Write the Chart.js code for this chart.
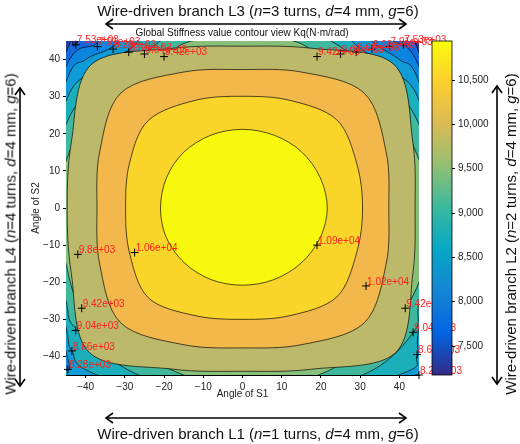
<!DOCTYPE html>
<html><head><meta charset="utf-8">
<script src="https://cdn.jsdelivr.net/npm/chart.js@4.4.0/dist/chart.umd.min.js"></script>
<style>
body{margin:0;width:520px;height:444px;background:#fff;font-family:"Liberation Sans",Arial,sans-serif;overflow:hidden}
#wrap{position:relative;width:520px;height:444px}
canvas{position:absolute}
.t{position:absolute;font-size:15px;white-space:nowrap;color:#111}
.rot{transform-origin:center;transform:translate(-50%,-50%) rotate(-90deg)}
</style></head><body><div id="wrap">
<canvas id="main" width="520" height="444" style="left:0;top:0;width:520px;height:444px"></canvas>
<canvas id="cbar" width="100" height="444" style="left:420px;top:0;width:100px;height:444px"></canvas>
<div class="t" style="left:258px;top:2px;transform:translateX(-50%)">Wire-driven branch L3 (<i>n</i>=3 turns, <i>d</i>=4 mm, <i>g</i>=6)</div>
<div class="t" style="left:258px;top:425px;transform:translateX(-50%)">Wire-driven branch L1 (<i>n</i>=1 turns, <i>d</i>=4 mm, <i>g</i>=6)</div>
<div class="t rot" style="left:10px;top:234px">Wire-driven branch L4 (<i>n</i>=4 turns, <i>d</i>=4 mm, <i>g</i>=6)</div>
<div class="t rot" style="left:510px;top:234px">Wire-driven branch L2 (<i>n</i>=2 turns, <i>d</i>=4 mm, <i>g</i>=6)</div>
<div class="t" style="left:242px;top:27px;font-size:10px;transform:translateX(-50%)">Global Stiffness value contour view Kq(N·m/rad)</div>
<svg width="520" height="444" style="position:absolute;left:0;top:0">
<g stroke="#000" stroke-width="1.6" fill="none">
<line x1="106" y1="24" x2="406" y2="24"/><path d="M113,19 L106,24 L113,29 M399,19 L406,24 L399,29"/>
<line x1="106" y1="418" x2="406" y2="418"/><path d="M113,413 L106,418 L113,423 M399,413 L406,418 L399,423"/>
<line x1="20" y1="88" x2="20" y2="386"/><path d="M15,95 L20,88 L25,95 M15,379 L20,386 L25,379"/>
<line x1="497" y1="86" x2="497" y2="384"/><path d="M492,93 L497,86 L502,93 M492,377 L497,384 L502,377"/>
</g></svg>
</div>
<script>
// contour levels (N·m/rad) and colours of the band above each level
const levels = [10900, 10600, 10200, 9800, 9420, 9040, 8660, 8280, 7910, 7530];
const bandColors = ['#f8f80f','#f9d52a','#f2b84c','#bcb96a','#86c07a','#40b89e','#1aafbb','#0e9bd6','#0c85e0','#1568db'];
const lowColor = '#2e3aa0';
// closed contour outlines [S1, S2]
const c10900 = [[0,21.2],[8.1,19.6],[15,15.2],[19.8,8.2],[21.6,0],[19.8,-8],[15,-14.8],[8,-19.3],[0,-20.8],[-8,-19.3],[-14.8,-14.8],[-19.4,-8],[-20.9,0],[-19.4,8.1],[-15,15],[-8.1,19.6]];
const c10600 = [[0,30.1],[12.1,29],[24,23.8],[29.1,12.1],[30.6,0],[29.1,-12.1],[24,-24],[12.1,-29],[0,-30],[-12.1,-29],[-24,-24.2],[-28.8,-12.1],[-29.8,0],[-28.8,12.1],[-24,23.6],[-12.1,29]];
const c10200 = [[0,37.3],[15.2,36.6],[31,31],[36.6,15.2],[37.3,0],[36.6,-15.2],[31,-31],[15.2,-36.8],[0,-37.7],[-15.2,-36.8],[-31,-31],[-36.4,-15.2],[-37.1,0],[-36.4,15.2],[-31,31],[-15.2,36.6]];
const c9800 = [[0,43.6],[18,43],[38.6,38.7],[43.4,18],[44,0],[43.4,-18],[39,-39],[18,-43.4],[0,-44],[-18,-43.4],[-39,-39],[-43.6,-18],[-44.7,0],[-43.6,18],[-38.6,38.6],[-18,43]];
const c9420 = [[1,46.5],[13,45],[20,41],[30,35],[38,28],[45,13],[48,0],[46.5,-15],[41.5,-27],[32,-37],[19.4,-45],[1,-50],[-15,-45],[-30,-37],[-41,-27],[-45,-15],[-47,0],[-45,12.6],[-38,28],[-30,35],[-20,41],[-13,45]];
const c9040 = [[1,50],[18,47],[27,42],[36,35],[45,22.5],[49,0],[45,-25],[43.5,-33.6],[30.6,-45],[1,-53],[-26.5,-45],[-42,-33],[-45,-25],[-49,0],[-45,22.5],[-36,35],[-25,41.8],[-17,47]];
const c8660 = [[1,54],[22,49],[30,43],[38,37],[45,29],[51,0],[45,-32],[44.5,-40],[39.8,-45],[1,-57],[-37,-45],[-43.5,-38.5],[-45,-32],[-51,0],[-45,28.8],[-38,37],[-29,42.5],[-21,49]];
const c8280 = [[1,58],[26,51],[34,44],[40,40],[45,34],[54,0],[46,-40],[45,-44.5],[43,-47],[1,-61],[-43,-47],[-44,-43],[-45,-38.6],[-54,0],[-45,34],[-40,40],[-33,43.5],[-25,51]];
const c7910 = [[1,62],[30,53],[38,45.5],[45,38.2],[57,0],[46,-46],[44,-49],[1,-65],[-46,-46],[-45,-43],[-57,0],[-45,38.2],[-37,44.5],[-29,53]];
const c7530 = [[1,66],[35,54],[42,46],[45,42],[60,0],[48,-48],[1,-69],[-48,-48],[-60,0],[-45,42],[-42.5,44],[-34,54]];
const contours = [c10900,c10600,c10200,c9800,c9420,c9040,c8660,c8280,c7910,c7530];
// contour labels [S1, S2, text]
const labelPts = [
 [-42.5,44,'7.53e+03'],[-37,43.5,'7.91e+03'],[-33,42.8,'8.28e+03'],[-29,42,'8.66e+03'],[-25,41.5,'9.04e+03'],[-20,40.8,'9.42e+03'],
 [19,40.8,'9.42e+03'],[25,41.5,'9.04e+03'],[29,42,'8.66e+03'],[33,42.8,'8.28e+03'],[37.5,43.5,'7.91e+03'],[41,44,'7.53e+03'],
 [-42,-12.5,'9.8e+03'],[-27.5,-12,'1.06e+04'],[19,-10,'1.09e+04'],[31.5,-21,'1.02e+04'],
 [-41,-27,'9.42e+03'],[-42.5,-33,'9.04e+03'],[-43.5,-38.5,'8.66e+03'],[-44.5,-43.5,'8.28e+03'],
 [41.5,-27,'9.42e+03'],[43.5,-33.5,'9.04e+03'],[44.5,-39.5,'8.66e+03'],[45,-45,'8.28e+03']];
const xTicks = [-40,-30,-20,-10,0,10,20,30,40];
const yTicks = [-40,-30,-20,-10,0,10,20,30,40];
const cbarTicks = [7500,8000,8500,9000,9500,10000,10500];
const cbarMin = 7173, cbarMax = 10940;
const parula = ['#352a87','#0363e1','#1485d4','#06a7c6','#38b99e','#92bf73','#d9ba56','#fcce2e','#f9fb0e'];

const font = {family:'"Liberation Sans", Arial, sans-serif', size:10};
Chart.defaults.color = '#222';

const datasets = [{data: labelPts.map(p=>({x:p[0],y:p[1]})), showLine:false, pointStyle:'cross',
  pointRadius:4, borderColor:'#000', borderWidth:1, backgroundColor:'#000', clip:false}];

function closedSpline(c, pts){ // Catmull-Rom through pixel points, closed
  const n=pts.length; c.moveTo(pts[0][0],pts[0][1]);
  for(let i=0;i<n;i++){const p0=pts[(i-1+n)%n],p1=pts[i],p2=pts[(i+1)%n],p3=pts[(i+2)%n];
    c.bezierCurveTo(p1[0]+(p2[0]-p0[0])/6,p1[1]+(p2[1]-p0[1])/6,p2[0]-(p3[0]-p1[0])/6,p2[1]-(p3[1]-p1[1])/6,p2[0],p2[1]);}
  c.closePath();}

const contourPlugin = {id:'contours',
  beforeDatasetsDraw(ch){const a=ch.chartArea,c=ch.ctx,xs=ch.scales.x,ys=ch.scales.y;c.save();
    c.beginPath();c.rect(a.left,a.top,a.width,a.height);c.clip();
    c.fillStyle=lowColor;c.fillRect(a.left,a.top,a.width,a.height);
    for(let i=contours.length-1;i>=0;i--){
      const px=contours[i].map(p=>[xs.getPixelForValue(p[0]),ys.getPixelForValue(p[1])]);
      c.beginPath();closedSpline(c,px);c.fillStyle=bandColors[i];c.fill();
      c.strokeStyle='rgba(0,0,0,0.75)';c.lineWidth=0.9;c.stroke();}
    c.restore();},
  afterDatasetsDraw(ch){const c=ch.ctx,xs=ch.scales.x,ys=ch.scales.y;c.save();c.fillStyle='#ff2020';c.font='10px "Liberation Sans", Arial';c.textBaseline='bottom';
   labelPts.forEach(p=>c.fillText(p[2],xs.getPixelForValue(p[0])+1,ys.getPixelForValue(p[1])+1));c.restore();}};

new Chart(document.getElementById('main'),{type:'scatter',data:{datasets},plugins:[contourPlugin],
 options:{responsive:false,animation:false,devicePixelRatio:1,
  layout:{padding:{left:30,right:101,top:41,bottom:40}},
  plugins:{legend:{display:false},tooltip:{enabled:false}},
  scales:{
   x:{min:-45,max:45,afterBuildTicks:s=>{s.ticks=xTicks.map(v=>({value:v}))},afterFit:s=>{s.height=29},
      grid:{drawOnChartArea:false,tickLength:3,color:'#000'},border:{color:'#000'},ticks:{font,maxRotation:0,callback:v=>v<0?'\u2212'+(-v):v},
      title:{display:true,text:'Angle of S1',font,padding:{top:0}}},
   y:{min:-45,max:45,afterBuildTicks:s=>{s.ticks=yTicks.map(v=>({value:v}))},afterFit:s=>{s.width=36},
      grid:{drawOnChartArea:false,tickLength:3,color:'#000'},border:{color:'#000'},ticks:{font,callback:v=>v<0?'\u2212'+(-v):v},
      title:{display:true,text:'Angle of S2',font,padding:0}}
  }}});

const cbPlugin = {id:'cb', beforeDatasetsDraw(ch){const a=ch.chartArea,c=ch.ctx;const g=c.createLinearGradient(0,a.bottom,0,a.top);
  parula.forEach((col,i)=>g.addColorStop(i/(parula.length-1),col));c.save();c.fillStyle=g;c.fillRect(a.left,a.top,a.width,a.height);
  c.strokeStyle='#000';c.lineWidth=0.8;c.strokeRect(a.left,a.top,a.width,a.height);c.restore();}};
new Chart(document.getElementById('cbar'),{type:'scatter',data:{datasets:[{data:[]}]},plugins:[cbPlugin],
 options:{responsive:false,animation:false,devicePixelRatio:1,
  layout:{padding:{left:12,right:0,top:41,bottom:69}},
  plugins:{legend:{display:false},tooltip:{enabled:false}},
  scales:{x:{display:false,min:0,max:1},
   y:{position:'right',min:cbarMin,max:cbarMax,afterBuildTicks:s=>{s.ticks=cbarTicks.map(v=>({value:v}))},afterFit:s=>{s.width=68},
      grid:{drawOnChartArea:false,tickLength:3,color:'#000'},border:{display:false},ticks:{font,callback:v=>v.toLocaleString('en-US')}}}}});
</script></body></html>
